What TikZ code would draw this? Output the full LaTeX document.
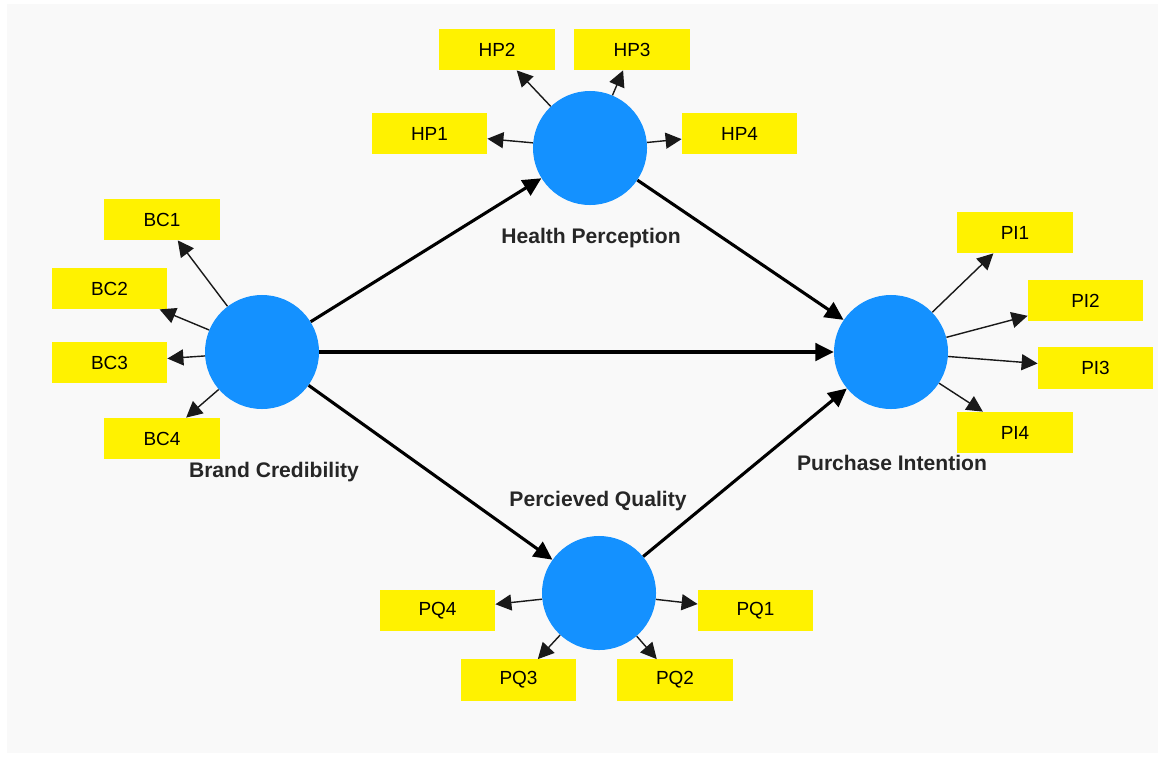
\documentclass[tikz,border=0pt]{standalone}
\usepackage{fontspec}
\setmainfont{Liberation Sans}
\usetikzlibrary{arrows.meta}
\definecolor{panelgray}{HTML}{F9F9F9}
\definecolor{latentblue}{HTML}{1491FF}
\begin{document}
\begin{tikzpicture}[x=0.025cm, y=-0.025cm,
  latent/.style={circle,fill=latentblue,minimum size=2.85cm,inner sep=0pt},
  item/.style={rectangle,fill=yellow,minimum width=2.88cm,minimum height=1.03cm,inner sep=0pt,font=\fontsize{13.5}{16}\selectfont},
  lv label/.style={font=\fontsize{15}{18}\selectfont\bfseries,text=black!85},
  loading/.style={draw=black!90,line width=1pt,-{Triangle[length=0.4cm,width=0.4cm]}},
  path coef/.style={draw=black,line width=2.2pt,-{Triangle[length=0.46cm,width=0.44cm]}}]
\useasboundingbox (0,0) rectangle (1161,757);
\fill[panelgray] (7,4) rectangle (1158,753);
% latent variables
\node[latent] (BC) at (262,352) {};
\node[latent] (HP) at (590,148) {};
\node[latent] (PQ) at (599,593) {};
\node[latent] (PI) at (891,352) {};
\node[lv label] (lBC) at (274,472) {Brand Credibility};
\node[lv label] (lHP) at (591,238) {Health Perception};
\node[lv label] (lPQ) at (598,501) {Percieved Quality};
\node[lv label] (lPI) at (892,463) {Purchase Intention};
% indicators
\begin{scope}[every node/.style={item}]
\node (BC1) at (162,219.5) {BC1};
\node (BC2) at (109.5,288.5) {BC2};
\node (BC3) at (109.5,362.5) {BC3};
\node (BC4) at (162,438.5) {BC4};
\node (HP1) at (429.5,133.5) {HP1};
\node (HP2) at (497,49.5) {HP2};
\node (HP3) at (632,49.5) {HP3};
\node (HP4) at (739.5,133.5) {HP4};
\node (PQ1) at (755.5,610.5) {PQ1};
\node (PQ2) at (675,680) {PQ2};
\node (PQ3) at (518.5,680) {PQ3};
\node (PQ4) at (437.5,610.5) {PQ4};
\node (PI1) at (1015,232.5) {PI1};
\node (PI2) at (1085.5,300.5) {PI2};
\node (PI3) at (1095.5,368) {PI3};
\node (PI4) at (1015,432.5) {PI4};
\end{scope}
% outer model
\begin{scope}[every edge/.style={loading}]
\draw (BC) edge (BC1) (BC) edge (BC2) (BC) edge (BC3) (BC) edge (BC4);
\draw (HP) edge (HP1) (HP) edge (HP2) (HP) edge (HP3) (HP) edge (HP4);
\draw (PQ) edge (PQ1) (PQ) edge (PQ2) (PQ) edge (PQ3) (PQ) edge (PQ4);
\draw (PI) edge (PI1) (PI) edge (PI2) (PI) edge (PI3) (PI) edge (PI4);
\end{scope}
% inner model
\begin{scope}[every edge/.style={path coef}]
\draw (BC) edge (HP);
\draw (BC) edge (PI);
\draw (BC) edge (PQ);
\draw (HP) edge (PI);
\draw (PQ) edge (PI);
\end{scope}
\end{tikzpicture}
\end{document}
